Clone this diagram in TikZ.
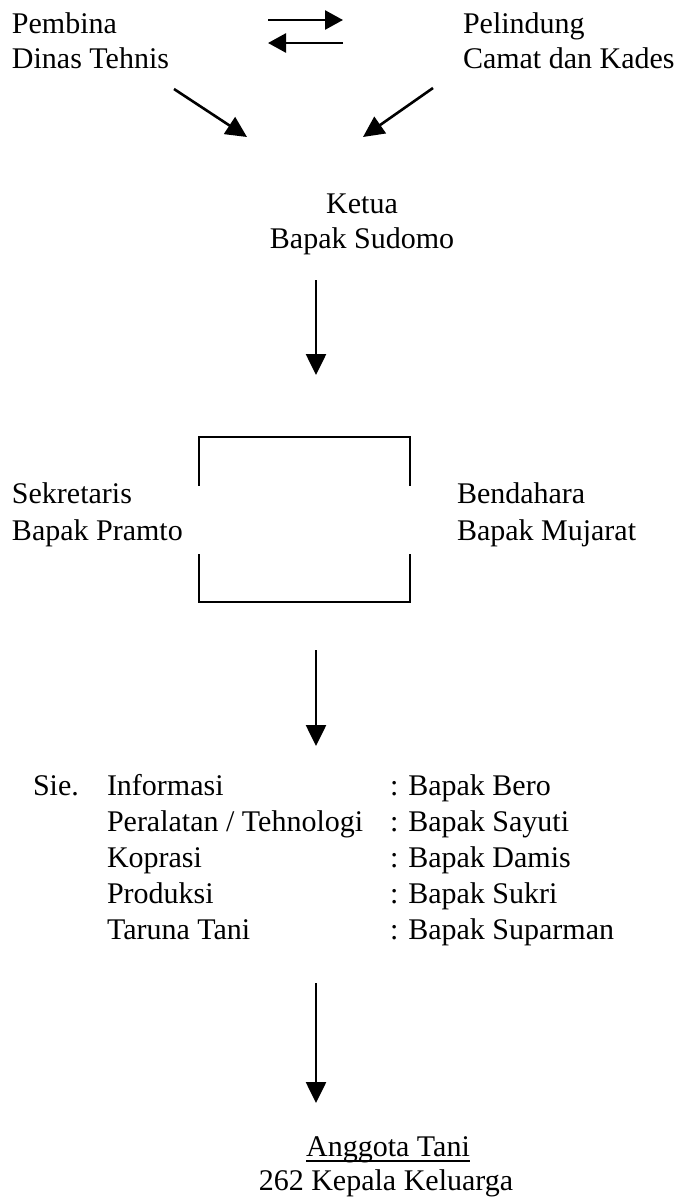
\documentclass[tikz,border=0pt]{standalone}
\usepackage{fontspec}
\setmainfont{Liberation Serif}
\usetikzlibrary{arrows.meta}
\begin{document}
\begin{tikzpicture}[x=1pt,y=-1pt,
  txt/.style={inner sep=0pt,outer sep=0pt,anchor=base west,font=\fontsize{30}{36}\selectfont},
  ctxt/.style={txt,anchor=base},
  conn/.style={line width=2.6pt,-{Triangle[length=21pt,width=20pt]}},
  hconn/.style={line width=2.6pt,-{Triangle[length=18pt,width=19pt]}},
  boxline/.style={line width=2.6pt,line cap=rect}]
\useasboundingbox (0,0) rectangle (676,1202);
% top row
\node[txt] (pembina) at (12,33) {Pembina};
\node[txt] (dinas) at (12,68) {Dinas Tehnis};
\node[txt] (pelindung) at (463,33) {Pelindung};
\node[txt] (camat) at (463,68) {Camat dan Kades};
\coordinate (ra1) at (268,20);
\coordinate (ra2) at (343,20);
\coordinate (la1) at (343,43);
\coordinate (la2) at (268,43);
\draw[hconn] (ra1) -- (ra2);
\draw[hconn] (la1) -- (la2);
% diagonals
\coordinate (dl1) at (174,89);
\coordinate (dl2) at (247,137);
\coordinate (dr1) at (433,88);
\coordinate (dr2) at (363,137);
\draw[conn] (dl1) -- (dl2);
\draw[conn] (dr1) -- (dr2);
% ketua
\node[ctxt] (ketua) at (362,213) {Ketua};
\node[ctxt] (sudomo) at (362,248) {Bapak Sudomo};
\coordinate (a1s) at (316,280);
\coordinate (a1e) at (316,375);
\draw[conn] (a1s) -- (a1e);
% box
\coordinate (bnw) at (199,437);
\coordinate (bne) at (410,437);
\coordinate (bsw) at (199,602);
\coordinate (bse) at (410,602);
\coordinate (blu) at (199,485);
\coordinate (bru) at (410,485);
\coordinate (bll) at (199,555);
\coordinate (brl) at (410,555);
\draw[boxline] (blu) -- (bnw) -- (bne) -- (bru);
\draw[boxline] (bll) -- (bsw) -- (bse) -- (brl);
\node[txt] (sekr) at (12,503) {Sekretaris};
\node[txt] (pramto) at (12,540) {Bapak Pramto};
\node[txt] (bend) at (457,503) {Bendahara};
\node[txt] (mujarat) at (457,540) {Bapak Mujarat};
\coordinate (a2s) at (316,650);
\coordinate (a2e) at (316,746);
\draw[conn] (a2s) -- (a2e);
% sie list
\node[txt] (sie) at (33,795) {Sie.};
\node[txt] (s1) at (107,795) {Informasi};
\node[txt] (s2) at (107,831) {Peralatan / Tehnologi};
\node[txt] (s3) at (107,867) {Koprasi};
\node[txt] (s4) at (107,903) {Produksi};
\node[txt] (s5) at (107,939) {Taruna Tani};
\node[txt] (n1) at (390,795) {: Bapak Bero};
\node[txt] (n2) at (390,831) {: Bapak Sayuti};
\node[txt] (n3) at (390,867) {: Bapak Damis};
\node[txt] (n4) at (390,903) {: Bapak Sukri};
\node[txt] (n5) at (390,939) {: Bapak Suparman};
\coordinate (a3s) at (316,983);
\coordinate (a3e) at (316,1103);
\draw[conn] (a3s) -- (a3e);
% bottom
\node[ctxt] (anggota) at (388,1156) {Anggota Tani};
\draw[line width=1.6pt] ([yshift=-5pt]anggota.base west) -- ([yshift=-5pt]anggota.base east);
\node[ctxt] (kk) at (386,1190) {262 Kepala Keluarga};
\end{tikzpicture}
\end{document}
